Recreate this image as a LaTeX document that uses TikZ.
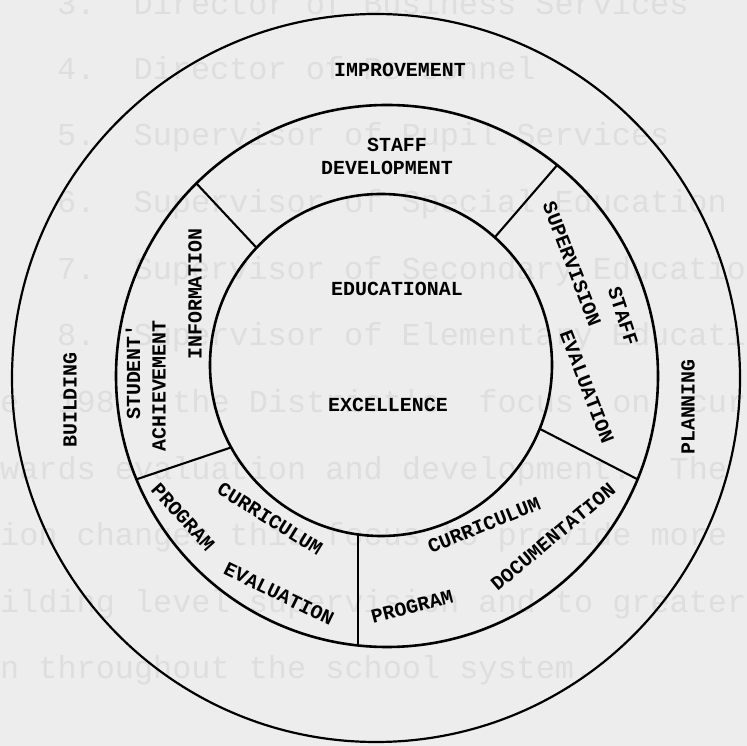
\documentclass[tikz,border=0pt]{standalone}
\usepackage{fontspec}
\setmonofont{Liberation Mono}

\begin{document}
\begin{tikzpicture}[
  x=10bp, y=10bp,
  ring/.style={line width=2.6bp},
  spoke/.style={line width=2.1bp},
  lbl/.style={font=\ttfamily\bfseries\fontsize{20}{24}\selectfont, inner sep=0pt},
  ghost/.style={font=\ttfamily\fontsize{32}{36}\selectfont, text=black!13, anchor=mid west, inner sep=0pt},
]

\fill [black!7] (0,0) rectangle (74.7,74.6);
\useasboundingbox (0,0) rectangle (74.7,74.6);

% page showing through
\node [ghost] (g3) at (5.7,73.4) {3.\ \ Director of Business Services};
\node [ghost] (g4) at (5.7,66.9) {4.\ \ Director of Personnel};
\node [ghost] (g5) at (5.7,60.3) {5.\ \ Supervisor of Pupil Services};
\node [ghost] (g6) at (5.7,53.6) {6.\ \ Supervisor of Special Education};
\node [ghost] (g7) at (5.7,46.9) {7.\ \ Supervisor of Secondary Education};
\node [ghost] (g8) at (5.7,40.3) {8.\ \ Supervisor of Elementary Education};
\node [ghost] (p1) at (0.0,33.6) {e\ \ 198\ \ \ the District's\ \ focus\ \ on\ \ curr};
\node [ghost] (p2) at (0.0,26.9) {wards evaluation and development.\ \ The};
\node [ghost] (p3) at (0.0,20.3) {ion changes this focus to provide more};
\node [ghost] (p4) at (0.0,13.6) {ilding level supervision and to greater};
\node [ghost] (p5) at (0.0,7.0) {n throughout the school system.};

% rings
\draw [ring, line width=2.2bp] (37.6,36.8) circle [radius=36.4];
\draw [ring] (38.7,37.0) circle [radius=27.1];
\draw [ring] (38.1,38.1) circle [radius=17.1];

% spokes of the middle ring
\draw [spoke] (19.64,56.26) -- (25.65,49.83);
\draw [spoke] (55.72,58.09) -- (49.48,50.87);
\draw [spoke] (63.75,26.67) -- (53.97,31.72);
\draw [spoke] (35.8,10.06) -- (35.8,21.16);
\draw [spoke] (13.65,26.67) -- (23.12,29.86);

% outer ring
\node [lbl] (impr) at (40.0,67.6) {IMPROVEMENT};
\node [lbl, rotate=90] (build) at (7.0,34.6) {BUILDING};
\node [lbl, rotate=90] (plan) at (68.8,33.9) {PLANNING};

% middle ring
\node [lbl] (staffA) at (39.7,60.1) {STAFF};
\node [lbl] (devel) at (38.7,57.8) {DEVELOPMENT};
\node [lbl, rotate=90] (stud) at (13.3,37.4) {STUDENT'};
\node [lbl, rotate=90] (achv) at (15.9,36.0) {ACHIEVEMENT};
\node [lbl, rotate=90] (info) at (19.5,45.2) {INFORMATION};
\node [lbl, rotate=-69] (superv) at (57.2,48.2) {SUPERVISION};
\node [lbl, rotate=-69] (evalR) at (58.7,35.9) {EVALUATION};
\node [lbl, rotate=-72] (staffB) at (62.3,43.0) {STAFF};
\node [lbl, rotate=-48] (progL) at (18.3,22.9) {PROGRAM};
\node [lbl, rotate=-32] (currL) at (27.0,22.7) {CURRICULUM};
\node [lbl, rotate=-26] (evalL) at (27.9,15.2) {EVALUATION};
\node [lbl, rotate=22] (currR) at (48.4,22.1) {CURRICULUM};
\node [lbl, rotate=40] (docu) at (55.3,20.9) {DOCUMENTATION};
\node [lbl, rotate=14.5] (progR) at (41.2,13.9) {PROGRAM};

% inner circle
\node [lbl] (educ) at (39.7,45.7) {EDUCATIONAL};
\node [lbl] (excel) at (38.8,34.1) {EXCELLENCE};

\end{tikzpicture}
\end{document}
